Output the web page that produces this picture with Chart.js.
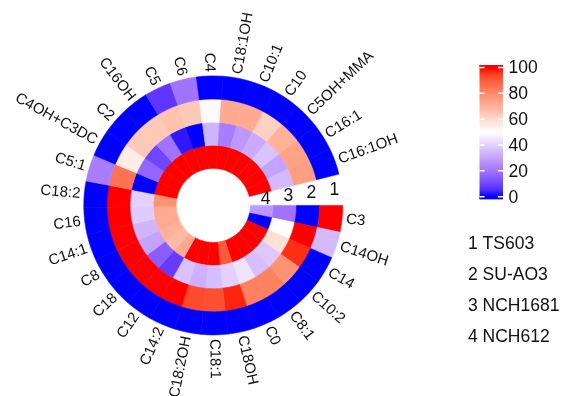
<!DOCTYPE html>
<html lang="en">

<head>
    <meta charset="UTF-8">
    <script src="https://cdn.jsdelivr.net/npm/chart.js"></script>
    <title>Heatmap circular</title>
    <style>
        body { margin: 0; background: #fff; }
        .grafico { position: relative; width: 564px; height: 396px; }
    </style>
</head>

<body>
    <div class="grafico">
        <canvas id="anel"></canvas>
    </div>
</body>
<script>

    // categorias no sentido horario, a partir das 3 horas
    const categories = ['C3', 'C14OH', 'C14', 'C10:2', 'C8:1', 'C0', 'C18OH', 'C18:1', 'C18:2OH', 'C14:2',
        'C12', 'C18', 'C8', 'C14:1', 'C16', 'C18:2', 'C5:1', 'C4OH+C3DC', 'C2', 'C16OH',
        'C5', 'C6', 'C4', 'C18:1OH', 'C10:1', 'C10', 'C5OH+MMA', 'C16:1', 'C16:1OH'];

    const samples = ['TS603', 'SU-AO3', 'NCH1681', 'NCH612'];

    // anel 1 (externo) ate anel 4 (interno)
    const ts603 = [100, 35, 0, 0, 0, 0, 0, 0, 0, 0, 0, 0, 0, 0, 0, 0, 22, 0, 0, 0, 7, 20, 0, 0, 0, 0, 0, 0, 0];
    const suao3 = [0, 100, 97, 78, 82, 82, 98, 92, 93, 100, 100, 100, 100, 100, 100, 100, 85, 55, 64, 64, 66, 64, 49, 72, 72, 62, 70, 74, 75];
    const nch1681 = [20, 50, 58, 38, 36, 44, 40, 36, 33, 37, 8, 15, 30, 34, 39, 40, 0, 17, 10, 20, 2, 0, 34, 22, 28, 32, 37, 30, 35];
    const nch612 = [28, 0, 100, 100, 100, 100, 90, 100, 100, 100, 72, 68, 70, 72, 72, 78, 100, 100, 100, 100, 100, 100, 100, 100, 100, 100, 100, 100, 100];

    const legendTicks = [0, 20, 40, 60, 80, 100];

    // escala de cor azul - branco - vermelho interpolada em LAB
    const colorStops = [[0, [0, 0, 255]], [50, [255, 255, 255]], [100, [255, 0, 0]]];

    function toLin(c) {
        c = c / 255;
        return c <= 0.04045 ? c / 12.92 : Math.pow((c + 0.055) / 1.055, 2.4);
    }
    function fromLin(c) {
        c = c <= 0.0031308 ? 12.92 * c : 1.055 * Math.pow(c, 1 / 2.4) - 0.055;
        return Math.round(Math.max(0, Math.min(1, c)) * 255);
    }
    function rgbToLab(rgb) {
        var r = toLin(rgb[0]), g = toLin(rgb[1]), b = toLin(rgb[2]);
        var x = (0.4124 * r + 0.3576 * g + 0.1805 * b) / 0.95047;
        var y = (0.2126 * r + 0.7152 * g + 0.0722 * b);
        var z = (0.0193 * r + 0.1192 * g + 0.9505 * b) / 1.08883;
        var f = t => t > 0.008856 ? Math.cbrt(t) : 7.787 * t + 16 / 116;
        return [116 * f(y) - 16, 500 * (f(x) - f(y)), 200 * (f(y) - f(z))];
    }
    function labToRgb(lab) {
        var fy = (lab[0] + 16) / 116, fx = fy + lab[1] / 500, fz = fy - lab[2] / 200;
        var inv = t => t > 0.206893 ? t * t * t : (t - 16 / 116) / 7.787;
        var x = inv(fx) * 0.95047, y = inv(fy), z = inv(fz) * 1.08883;
        var r = 3.2406 * x - 1.5372 * y - 0.4986 * z;
        var g = -0.9689 * x + 1.8758 * y + 0.0415 * z;
        var b = 0.0557 * x - 0.2040 * y + 1.0570 * z;
        return [fromLin(r), fromLin(g), fromLin(b)];
    }
    function corValor(v) {
        var i = v <= 50 ? 0 : 1;
        var a = colorStops[i], b = colorStops[i + 1];
        var t = (v - a[0]) / (b[0] - a[0]);
        var la = rgbToLab(a[1]), lb = rgbToLab(b[1]);
        var rgb = labToRgb([la[0] + (lb[0] - la[0]) * t, la[1] + (lb[1] - la[1]) * t, la[2] + (lb[2] - la[2]) * t]);
        return `rgb(${rgb[0]},${rgb[1]},${rgb[2]})`;
    }

    const series = [ts603, suao3, nch1681, nch612];
    const fonte = '"Liberation Sans", Arial, sans-serif';

    const rotulos = {
        id: 'rotulos',
        afterDraw(chart) {
            const ctx = chart.ctx;
            ctx.save();
            ctx.fillStyle = '#111';

            // nomes das categorias em volta do anel
            ctx.font = '15px ' + fonte;
            ctx.textBaseline = 'middle';
            chart.getDatasetMeta(0).data.forEach(function (arc, i) {
                const p = arc.getProps(['x', 'y', 'startAngle', 'endAngle', 'outerRadius'], true);
                const ang = (p.startAngle + p.endAngle) / 2;
                const r = p.outerRadius + 4;
                ctx.save();
                ctx.translate(p.x, p.y);
                if (Math.cos(ang) >= 0) {
                    ctx.rotate(ang);
                    ctx.textAlign = 'left';
                    ctx.fillText(categories[i], r, 0);
                } else {
                    ctx.rotate(ang + Math.PI);
                    ctx.textAlign = 'right';
                    ctx.fillText(categories[i], -r, 0);
                }
                ctx.restore();
            });

            // numero de cada anel no espaco vazio
            ctx.font = '17.5px ' + fonte;
            ctx.textAlign = 'center';
            series.forEach(function (s, d) {
                const arc = chart.getDatasetMeta(d).data[0];
                const p = arc.getProps(['x', 'y', 'startAngle', 'innerRadius', 'outerRadius'], true);
                const r = (p.innerRadius + p.outerRadius) / 2 + 4;
                const ang = p.startAngle - 7 * Math.PI / 180;
                ctx.fillText(String(d + 1), p.x + r * Math.cos(ang), p.y + r * Math.sin(ang));
            });

            // barra de cores
            const bx = 479.5, bw = 23.5, yTop = 67.5, yBot = 196.7;
            const yDe = v => yBot - (v / 100) * (yBot - yTop);
            const grad = ctx.createLinearGradient(0, yBot, 0, yTop);
            for (let v = 0; v <= 100; v += 5) grad.addColorStop(v / 100, corValor(v));
            ctx.fillStyle = grad;
            ctx.fillRect(bx, yTop - 2.5, bw, (yBot - yTop) + 5);
            ctx.fillStyle = corValor(100);
            ctx.fillRect(bx, yTop - 2.5, bw, 2.5);
            ctx.fillStyle = corValor(0);
            ctx.fillRect(bx, yBot, bw, 2.5);

            ctx.strokeStyle = '#fff';
            ctx.lineWidth = 1.5;
            ctx.fillStyle = '#111';
            ctx.textAlign = 'left';
            ctx.textBaseline = 'middle';
            legendTicks.forEach(function (v) {
                const y = yDe(v);
                ctx.beginPath();
                ctx.moveTo(bx, y); ctx.lineTo(bx + 5, y);
                ctx.moveTo(bx + bw - 5, y); ctx.lineTo(bx + bw, y);
                ctx.stroke();
                ctx.fillText(String(v), 508.5, y + 1);
            });

            // legenda das amostras
            ctx.textBaseline = 'alphabetic';
            samples.forEach(function (nome, i) {
                ctx.fillText((i + 1) + ' ' + nome, 468, 249 + i * 31);
            });

            ctx.restore();
        }
    };

    const ctx = document.getElementById('anel').getContext('2d');
    new Chart(ctx, {
        type: 'doughnut',
        data: {
            labels: categories,
            datasets: series.map(function (s, d) {
                const cores = s.map(corValor);
                return {
                    label: samples[d],
                    data: s.map(() => 1),
                    backgroundColor: cores,
                    borderColor: cores,
                    borderWidth: 0.6
                };
            })
        },
        options: {
            responsive: true,
            maintainAspectRatio: false,
            animation: false,
            rotation: 90,
            circumference: 346,
            radius: 129.5,
            cutout: '28.6%',
            layout: { padding: { left: 0, right: 137.4, top: 14.8, bottom: 0 } },
            plugins: {
                legend: { display: false },
                tooltip: { enabled: false }
            }
        },
        plugins: [rotulos]
    });

</script>

</html>
